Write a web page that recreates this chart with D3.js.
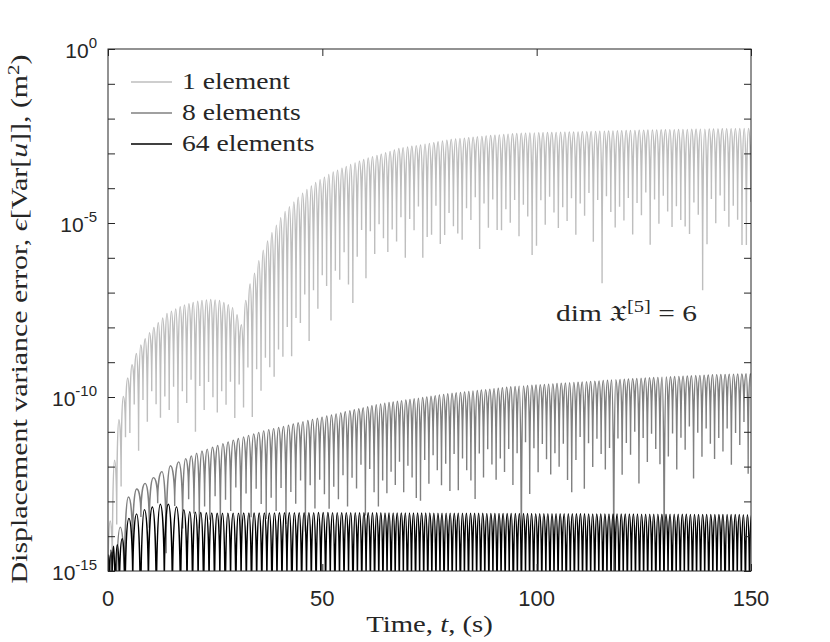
<!DOCTYPE html>
<html>
<head>
<meta charset="utf-8">
<script src="https://cdn.jsdelivr.net/npm/d3@7"></script>
<style>
body { margin: 0; background: #fff; }
text { fill: #262626; }
</style>
</head>
<body>
<div id="chart"></div>
<script>
// axis settings
const tMax = 150
const xTicks = [0, 50, 100, 150]
const yLabelExps = [0, -5, -10, -15]
const seriesNames = ["1 element", "8 elements", "64 elements"]
const seriesColors = ["#bebebe", "#808080", "#000000"]

// oscillation peak envelope, [t (s), log10 error]
const peaks1 = [[0, -14.5], [0.6, -13.4], [1.6, -11.7], [2.6, -10.6], [3.7, -9.9], [4.7, -9.4],
  [5.8, -9.0], [6.8, -8.7], [7.9, -8.45], [9, -8.27], [10, -8.1], [13.7, -7.6], [17.6, -7.36],
  [21.5, -7.23], [24, -7.2], [26.1, -7.23], [28.9, -7.4], [30, -7.6], [31, -8.0], [32, -7.3],
  [32.7, -6.88], [33.9, -6.54], [35.5, -5.97], [37, -5.57], [38.6, -5.2], [40.9, -4.72],
  [44.8, -4.2], [48.7, -3.81], [52.6, -3.53], [56.4, -3.33], [60.4, -3.14], [64.3, -3.0],
  [68.1, -2.85], [72.8, -2.76], [80, -2.6], [88, -2.5], [96, -2.42], [110, -2.38],
  [125, -2.33], [140, -2.3], [150, -2.28]]
const peaks8 = [[0, -15.5], [1.2, -14.2], [3.0, -13.7], [5.0, -12.77], [7.3, -12.6], [9.6, -12.4],
  [12, -12.2], [14.1, -12.0], [17.6, -11.8], [21.5, -11.57], [25.4, -11.4], [29.2, -11.24],
  [33.1, -11.09], [37, -10.95], [40.9, -10.85], [44, -10.75], [52, -10.52], [63.4, -10.2],
  [79, -9.91], [94.5, -9.7], [110, -9.57], [125.7, -9.45], [141, -9.36], [150, -9.33]]
const peaks64 = [[0, -14.6], [1, -14.3], [3, -14.2], [4.7, -13.5], [8.2, -13.25], [10.6, -13.15],
  [12.9, -13.05], [14.8, -13.1], [16.8, -13.2], [19.2, -13.3], [25, -13.34], [50, -13.32],
  [150, -13.38]]

// typical level of the dips between peaks
const troughs1 = [[0, -15.5], [2, -14], [3, -11.8], [5, -10.8], [8, -10.3], [12, -10.0], [20, -9.9],
  [30, -9.8], [32, -9.6], [36, -9.3], [40, -8.6], [45, -7.6], [50, -6.8], [55, -6.1], [60, -5.5],
  [70, -5.0], [80, -4.7], [100, -4.55], [150, -4.5]]
const troughs8 = [[0, -16], [4, -16], [5, -13.6], [10, -13.5], [20, -13.2], [30, -13.0], [45, -12.8],
  [52, -12.6], [63, -12.2], [80, -11.9], [110, -11.55], [140, -11.2], [150, -11.1]]
const troughs64 = [[0, -16], [150, -16]]

// isolated deep dips, [t (s), log10 error]
const spikes1 = [[31.2, -10.3], [52.3, -7.8], [57.6, -7.3], [68.9, -6.0], [74.5, -5.4], [77.5, -5.6],
  [82, -5.3], [90.5, -5.2], [99.1, -5.92], [113.3, -5.54], [115.4, -6.73], [135, -5.1],
  [138.5, -6.93], [148.2, -5.63], [149.4, -5.63]]
const spikes8 = [[55.7, -13.15], [63.0, -13.15], [64.2, -12.4], [68.6, -12.74], [71.8, -12.9],
  [72.9, -12.98], [79.4, -12.7], [84.9, -12.4], [96.0, -16], [108, -12.74], [117.9, -16],
  [130, -16], [150, -11.0]]
const spikes64 = []

// oscillation period along the record, [t (s), period (s)]
const period1 = [[0, 1.02], [150, 1.02]]
const period8 = [[0, 1.9], [15, 2.0], [18, 1.25], [50, 1.1], [65, 0.98], [150, 0.98]]
const period64 = [[0, 0.4], [4, 1.8], [15, 1.9], [18, 1.3], [50, 1.1], [65, 0.95], [150, 0.95]]

// raggedness of the dip depths (decades)
const dipJitter = [0, -0.4, 0.25, -0.8, 0.1, -0.25, 0.4, -1.1, 0.2, -0.5, 0.3, -0.15, -0.6]

const margin = { top: 49, right: 79, bottom: 71, left: 108 }
const width = 830, height = 642
const plotW = width - margin.left - margin.right
const plotH = height - margin.top - margin.bottom

const x = d3.scaleLinear().domain([0, tMax]).range([0, plotW])
const y = d3.scaleLog().domain([1e-15, 1]).range([plotH, 0])

function at(knots, t) {
  if (t <= knots[0][0]) return knots[0][1]
  for (let i = 1; i < knots.length; i++) {
    if (t <= knots[i][0]) {
      const a = knots[i - 1], b = knots[i]
      return a[1] + (b[1] - a[1]) * (t - a[0]) / (b[0] - a[0])
    }
  }
  return knots[knots.length - 1][1]
}

function turningPoints(peaks, troughs, spikes, periods) {
  const pts = []
  let t = 0, k = 0
  while (t < tMax + 1) {
    const p = at(periods, t)
    let dip = at(troughs, t) + dipJitter[k % dipJitter.length]
    const sp = spikes.find(s => Math.abs(s[0] - t) < p / 2)
    if (sp) dip = sp[1]
    pts.push([t, dip])
    pts.push([t + p / 2, at(peaks, t + p / 2)])
    t += p
    k++
  }
  return pts
}

function arches(pts) {
  const path = d3.path()
  const px = pts.map(d => [x(d[0]), y(Math.pow(10, d[1]))])
  path.moveTo(px[0][0], px[0][1])
  for (let i = 1; i < px.length; i++) {
    const a = px[i - 1], b = px[i]
    if (i % 2 === 1) {
      // rising from dip to peak
      path.bezierCurveTo(a[0], a[1] + (b[1] - a[1]) * 0.6, a[0] + (b[0] - a[0]) * 0.45, b[1], b[0], b[1])
    } else {
      path.bezierCurveTo(b[0] - (b[0] - a[0]) * 0.45, a[1], b[0], b[1] + (a[1] - b[1]) * 0.6, b[0], b[1])
    }
  }
  return path.toString()
}

const svg = d3.select("#chart").append("svg")
  .attr("width", width).attr("height", height)

svg.append("defs").append("clipPath").attr("id", "plot-clip")
  .append("rect").attr("width", plotW).attr("height", plotH)

const g = svg.append("g").attr("transform", `translate(${margin.left},${margin.top})`)

const series = [
  turningPoints(peaks1, troughs1, spikes1, period1),
  turningPoints(peaks8, troughs8, spikes8, period8),
  turningPoints(peaks64, troughs64, spikes64, period64)
]

g.append("g").attr("clip-path", "url(#plot-clip)")
  .selectAll("path").data(series).enter().append("path")
  .attr("d", arches)
  .attr("fill", "none")
  .attr("stroke", (d, i) => seriesColors[i])
  .attr("stroke-width", 1.4)

// axes, ticks inside
const decades = d3.range(0, 16).map(e => Math.pow(10, -e))
const tickLen = 7
function styleAxis(sel) {
  sel.select(".domain").remove()
  sel.selectAll("line").attr("stroke", "#262626")
  sel.selectAll("text").remove()
}
g.append("g").call(d3.axisLeft(y).tickValues(decades).tickSize(-tickLen)).call(styleAxis)
g.append("g").attr("transform", `translate(${plotW},0)`)
  .call(d3.axisRight(y).tickValues(decades).tickSize(-tickLen)).call(styleAxis)
g.append("g").attr("transform", `translate(0,${plotH})`)
  .call(d3.axisBottom(x).tickValues(xTicks).tickSize(-tickLen)).call(styleAxis)
g.append("g").call(d3.axisTop(x).tickValues(xTicks).tickSize(-tickLen)).call(styleAxis)

g.append("rect").attr("width", plotW).attr("height", plotH)
  .attr("fill", "none").attr("stroke", "#262626").attr("stroke-width", 1)

// tick labels
const tickFont = "'Liberation Sans', Arial, Helvetica, sans-serif"
g.selectAll(".xlab").data(xTicks).enter().append("text")
  .attr("x", d => x(d)).attr("y", plotH + 35)
  .attr("text-anchor", "middle")
  .style("font-family", tickFont).style("font-size", "22px")
  .text(d => d)

const ylab = g.selectAll(".ylab").data(yLabelExps).enter().append("text")
  .attr("x", -11).attr("y", d => y(Math.pow(10, d)) + 9)
  .attr("text-anchor", "end")
  .style("font-family", tickFont).style("font-size", "21px")
ylab.append("tspan").text("10")
ylab.append("tspan").attr("dy", -10).style("font-size", "15px").text(d => d)

// serif text, widened a little to match the TeX font of the original
const serif = "'Liberation Serif', 'DejaVu Serif', serif"
function serifText(parent, transform, size, stretch) {
  return parent.append("text")
    .attr("transform", `${transform} scale(${stretch},1)`)
    .style("font-family", serif).style("font-size", size + "px")
}

const xt = serifText(svg, `translate(${margin.left + plotW / 2},632)`, 23, 1.25)
  .attr("text-anchor", "middle")
xt.append("tspan").text("Time, ")
xt.append("tspan").style("font-style", "italic").text("t")
xt.append("tspan").text(", (s)")

const yt = serifText(svg, `translate(27,${margin.top + plotH / 2 + 9}) rotate(-90)`, 23, 1.3)
  .attr("text-anchor", "middle")
yt.append("tspan").text("Displacement variance error, ")
yt.append("tspan").style("font-style", "italic").text("ϵ")
yt.append("tspan").text("[Var[")
yt.append("tspan").style("font-style", "italic").text("u")
yt.append("tspan").text("]], (m")
yt.append("tspan").attr("dy", -8).style("font-size", "16px").text("2")
yt.append("tspan").attr("dy", 8).text(")")

// legend
const legend = g.append("g").attr("transform", "translate(23,33)")
const items = legend.selectAll("g").data(seriesNames).enter().append("g")
  .attr("transform", (d, i) => `translate(0,${i * 31})`)
items.append("line").attr("x1", 0).attr("x2", 41)
  .attr("stroke", (d, i) => seriesColors[i]).attr("stroke-width", 1.4)
items.each(function(d) {
  serifText(d3.select(this), "translate(51,7)", 23, 1.2).text(d)
})

// annotation
const note = serifText(svg, "translate(556,321)", 23, 1.28)
note.append("tspan").text("dim ")
note.append("tspan").text("𝔛")
note.append("tspan").attr("dy", -9).style("font-size", "16px").text("[5]")
note.append("tspan").attr("dy", 9).text(" = 6")
</script>
</body>
</html>
